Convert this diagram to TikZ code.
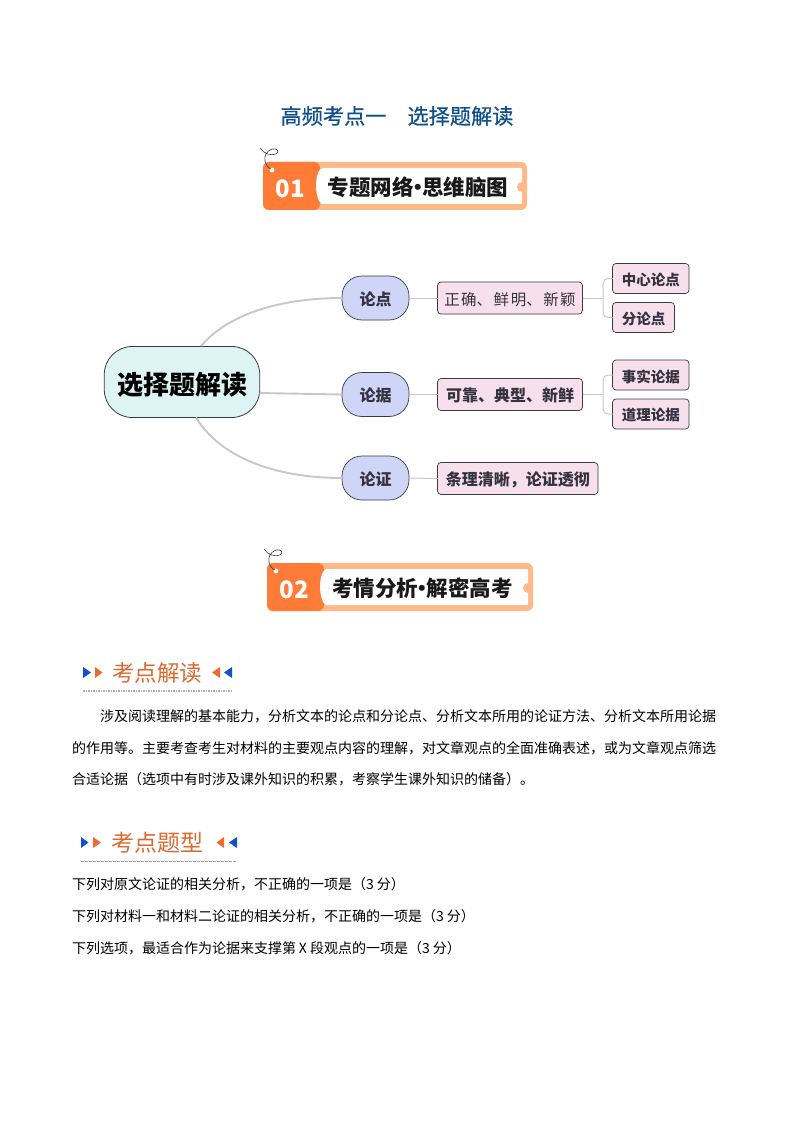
\documentclass[tikz,border=0pt]{standalone}
\usepackage{fontspec}
\setmainfont{Noto Sans CJK SC}
\newfontfamily\titlefont[FakeBold=0.5]{Noto Sans CJK SC}
\usetikzlibrary{calc}
\definecolor{peach}{HTML}{FFB888}
\definecolor{dorange}{HTML}{FF7B38}
\definecolor{heador}{HTML}{DB6A30}
\definecolor{tblue}{HTML}{0F4F8C}
\definecolor{triblue}{HTML}{1250D0}
\definecolor{triora}{HTML}{EE6A2A}
\definecolor{cfill}{HTML}{DDF4F3}
\definecolor{lfill}{HTML}{CFD5F6}
\definecolor{pfill}{HTML}{F8DFEC}
\definecolor{edge}{HTML}{3A3A46}
\definecolor{txt}{HTML}{333340}
\definecolor{link}{HTML}{C8C8C8}
\newcommand{\fsz}[1]{\fontsize{#1}{#1}\selectfont}
\newcommand{\dn}[2]{\sbox0{#2}\raisebox{-#1pt}[\ht0][\dp0]{\usebox0}}
\tikzset{
  x=1pt,y=-1pt,
  plain/.style={inner sep=0pt,outer sep=0pt},
  body/.style={plain,anchor=west,text=black,font=\fsz{14}},
  centerbox/.style={plain,draw=edge,line width=.8pt,fill=cfill,rounded corners=28pt,minimum width=155.5pt,minimum height=71pt,font=\bfseries\fsz{26},text=black},
  levela/.style={plain,draw=edge,line width=.7pt,fill=lfill,rounded corners=20pt,minimum width=67pt,minimum height=44pt,font=\bfseries\fsz{16},text=txt},
  levelb/.style={plain,draw=edge,line width=.7pt,fill=pfill,rounded corners=3.5pt,minimum height=32pt,font=\bfseries\fsz{16},text=txt},
  levelc/.style={plain,draw=edge,line width=.7pt,fill=pfill,rounded corners=3.5pt,minimum height=30pt,font=\bfseries\fsz{14.5},text=txt},
  curvelink/.style={draw=link,line width=1.9pt},
  thinlink/.style={draw=link,line width=1pt},
  elbow/.style={draw=link,line width=1pt,rounded corners=5pt},
  heading/.style={plain,text=heador,font=\fsz{22.5}},
}
\newcommand{\banner}[6]{%
\begin{scope}[xshift=#1pt,yshift=-#2pt]
  \fill[peach] (0,0) [rounded corners=6pt] rectangle (#3,48);
  \fill[dorange,rounded corners=6pt] (0,0) -- (57,0) -- (57,48) -- (0,48) -- cycle;
  \fill[white] (58,6) -- (#3-6,6) -- (#3-5,7) -- (#3-5,41) -- (#3-6,42) -- (60,42) .. controls (55,42) and (53,30) .. (53,24) .. controls (53,17) and (55,6) .. (60,6) -- cycle;
  \fill[peach] (#3-5,25) circle[radius=5];
  \fill[white] (9,8) circle[radius=2.4];
  \draw[edge,line width=.6pt] (-3,-14) .. controls (1,-8) and (8,-6) .. (13,-8) .. controls (17,-11) and (14,-14) .. (9,-13) .. controls (3,-11) and (1,-5) .. (2,-1) .. controls (3,3) and (5,6) .. (8,7);
  \node[plain,text=white,font=\bfseries\fsz{24}] at (27,27) {#4};
  \node[plain,text=black!90,font=\bfseries\fsz{21.5}] at (#6,25) {#5};
\end{scope}}
\begin{document}
\begin{tikzpicture}
\useasboundingbox (0,0) rectangle (794,1123);
\fill[white] (0,0) rectangle (794,1123);
% title
\node[plain,text=tblue,font=\titlefont\fsz{21.2}] (title) at (397,116) {高频考点一\hspace{21pt}选择题解读};
% banners
\banner{263}{162}{264}{01}{专题网络\hspace{-6.5pt}•\hspace{-6.5pt}思维脑图}{155}
\banner{267}{563}{266}{02}{考情分析\hspace{-6.5pt}•\hspace{-6.5pt}解密高考}{155.5}
% mind map nodes
\node[centerbox] (c) at (182,382) {\dn{3}{选择题解读}};
\node[levela] (a1) at (375.5,298) {\dn{1}{论点}};
\node[levela] (a2) at (375.5,394.5) {\dn{1}{论据}};
\node[levela] (a3) at (375.5,478) {\dn{1}{论证}};
\node[levelb,minimum width=145pt,font=\fsz{15.5}] (b1) at (510,298) {\dn{1.5}{正\hspace{1.5pt}确、\hspace{1.5pt}鲜\hspace{1.5pt}明、\hspace{1.5pt}新\hspace{1.5pt}颖}};
\node[levelb,minimum width=145pt] (b2) at (510,394.5) {\dn{1}{可靠、典型、新鲜}};
\node[levelb,minimum width=160.5pt] (b3) at (517.75,478.5) {\dn{1.5}{条理清晰，论证透彻}};
\node[levelc,minimum width=76.5pt] (d1) at (650.75,278.5) {\dn{1.5}{中心论点}};
\node[levelc,minimum width=62pt] (d2) at (643.5,317.5) {\dn{1.5}{分论点}};
\node[levelc,minimum width=76.5pt] (d3) at (650.75,375) {\dn{1.5}{事实论据}};
\node[levelc,minimum width=76.5pt] (d4) at (650.75,414) {\dn{1.5}{道理论据}};
% connectors
\coordinate (cu) at (201,346);
\coordinate (cd) at (196,417.5);
\coordinate (cr) at (259.5,393);
\coordinate (j1) at (603,298);
\coordinate (j2) at (603,394.5);
\draw[curvelink] (cu) .. controls (230,312) and (285,298) .. (a1.west);
\draw[curvelink] (cr) -- (a2.west);
\draw[curvelink] (cd) .. controls (222,460) and (280,478) .. (a3.west);
\draw[thinlink] (a1.east) -- (b1.west);
\draw[thinlink] (a2.east) -- (b2.west);
\draw[thinlink] (a3.east) -- (b3.west);
\draw[thinlink] (b1.east) -- (j1);
\draw[thinlink] (b2.east) -- (j2);
\draw[elbow] (j1) |- (d1.west);
\draw[elbow] (j1) |- (d2.west);
\draw[elbow] (j2) |- (d3.west);
\draw[elbow] (j2) |- (d4.west);
% heading 1
\fill[triblue] (83,667) -- (91,672.5) -- (83,678) -- cycle;
\fill[triora] (95,667) -- (102.5,672.5) -- (95,678) -- cycle;
\node[heading] (h1) at (157,673) {考点解读};
\fill[triora] (220,667) -- (212,672.5) -- (220,678) -- cycle;
\fill[triblue] (232,667) -- (224,672.5) -- (232,678) -- cycle;
\draw[gray!60,line width=1.2pt,dash pattern=on 1.5pt off 1pt] (83,691) -- (231,691);
% paragraph
\node[body] (p1) at (100,716) {涉及阅读理解的基本能力，分析文本的论点和分论点、分析文本所用的论证方法、分析文本所用论据};
\node[body] (p2) at (72,748) {的作用等。主要考查考生对材料的主要观点内容的理解，对文章观点的全面准确表述，或为文章观点筛选};
\node[body] (p3) at (72,779) {合适论据（选项中有时涉及课外知识的积累，考察学生课外知识的储备）。};
% heading 2
\fill[triblue] (81,837) -- (88.5,842.5) -- (81,848) -- cycle;
\fill[triora] (93,837) -- (101,842.5) -- (93,848) -- cycle;
\node[heading,font=\fsz{23}] (h2) at (157.5,843) {考点题型};
\fill[triora] (224,837) -- (216.5,842.5) -- (224,848) -- cycle;
\fill[triblue] (237,837) -- (229,842.5) -- (237,848) -- cycle;
\draw[gray!70,line width=.7pt,dash pattern=on 2.5pt off 1.5pt] (81,861) -- (237,861);
% list
\node[body] (q1) at (72,884) {下列对原文论证的相关分析，不正确的一项是（3\hspace{3pt}分）};
\node[body] (q2) at (72,916) {下列对材料一和材料二论证的相关分析，不正确的一项是（3\hspace{3pt}分）};
\node[body] (q3) at (72,948) {下列选项，最适合作为论据来支撑第\hspace{3pt}X\hspace{3pt}段观点的一项是（3\hspace{3pt}分）};
\end{tikzpicture}
\end{document}
